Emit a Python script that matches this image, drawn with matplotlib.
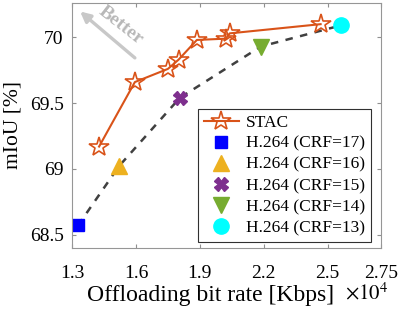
import numpy as np
import matplotlib
matplotlib.use("Agg")
import matplotlib.pyplot as plt

plt.rcParams["font.family"] = ["Liberation Serif", "DejaVu Serif"]
plt.rcParams["mathtext.fontset"] = "stix"

# datos (tasa en Kbps, mIoU en %)
stac_rate = [14270, 15950, 17500, 18000, 18860, 20220, 20400, 24670]
stac_miou = [69.17, 69.66, 69.76, 69.83, 69.98, 69.99, 70.03, 70.10]

h264_labels = ["H.264 (CRF=17)", "H.264 (CRF=16)", "H.264 (CRF=15)",
               "H.264 (CRF=14)", "H.264 (CRF=13)"]
h264_rate = [13280, 15200, 18060, 21860, 25610]
h264_miou = [68.57, 69.02, 69.54, 69.93, 70.09]

xticks = [13000, 16000, 19000, 22000, 25000, 27500]
xtick_labels = ["1.3", "1.6", "1.9", "2.2", "2.5", "2.75"]
yticks = [68.5, 69, 69.5, 70]
ytick_labels = ["68.5", "69", "69.5", "70"]

h264_markers = ["s", "^", "X", "v", "o"]
h264_colors = ["#0000FF", "#EDB120", "#7E2F8E", "#77AC30", "#00FFFF"]
h264_sizes = [8, 12, 10, 12, 11]

fig = plt.figure(figsize=(3.98, 3.11), dpi=100)
ax = fig.add_axes([0.181, 0.203, 0.776, 0.787])

ax.plot(h264_rate, h264_miou, color="#404040", lw=1.8, ls=(0, (3, 3)), zorder=1)

ax.plot(stac_rate, stac_miou, color="#D95319", lw=1.5, marker="*", ms=15,
        mfc="none", mec="#D95319", mew=1.2, label="STAC", zorder=3)

for r, m, lab, mk, c, s in zip(h264_rate, h264_miou, h264_labels,
                               h264_markers, h264_colors, h264_sizes):
    ax.plot([r], [m], ls="none", marker=mk, ms=s, color=c, mec=c,
            label=lab, zorder=2)

ax.set_xlim(13000, 27500)
ax.set_ylim(68.4, 70.26)
ax.set_xticks(xticks)
ax.set_xticklabels(xtick_labels)
ax.set_yticks(yticks)
ax.set_yticklabels(ytick_labels)

ax.tick_params(direction="in", length=3, width=0.8, color="#909090",
               labelsize=14, top=True, right=True)
ax.tick_params(axis="x", pad=12)
ax.tick_params(axis="y", pad=6)
for sp in ax.spines.values():
    sp.set_color("#969696")
    sp.set_linewidth(0.8)

ax.set_xlabel("Offloading bit rate [Kbps]", fontsize=17)
ax.xaxis.set_label_coords(0.447, -0.15)
ax.set_ylabel("mIoU [%]", fontsize=15.5)
ax.yaxis.set_label_coords(-0.16, 0.5)
fig.text(0.975, 0.055, r"$\times 10^4$", fontsize=15, ha="right", va="center")

# flecha "Better"
ax.annotate("", xy=(13280, 70.21), xytext=(16050, 69.83),
            arrowprops=dict(arrowstyle="-|>", color="#C8C8C8", lw=2.4,
                            mutation_scale=15))
ax.text(15300, 70.09, "Better", rotation=-38, color="#B8B8B8", fontsize=14,
        fontweight="bold", ha="center", va="center")

leg = ax.legend(loc="lower right", bbox_to_anchor=(371 / 398, 1 - 242 / 311),
                bbox_transform=fig.transFigure, borderaxespad=0,
                fontsize=12.5, frameon=True, fancybox=False,
                edgecolor="#303030", framealpha=1,
                handlelength=2.0, handletextpad=0.4, labelspacing=0.28,
                borderpad=0.35)
leg.get_frame().set_linewidth(0.8)

fig.savefig("out.png", dpi=100)
